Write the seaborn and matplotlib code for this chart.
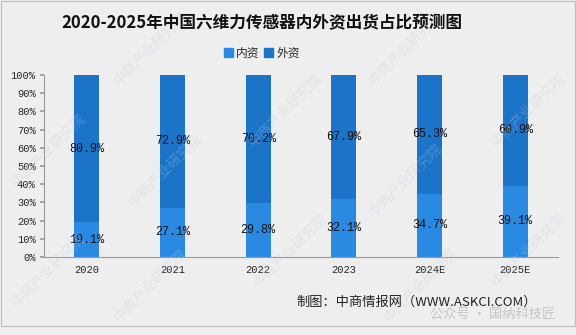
import matplotlib
matplotlib.use("Agg")
import matplotlib.pyplot as plt
import seaborn as sns
import pandas as pd
from matplotlib.patches import Rectangle

years = ["2020", "2021", "2022", "2023", "2024E", "2025E"]
domestic = [19.1, 27.1, 29.8, 32.1, 34.7, 39.1]
foreign = [80.9, 72.9, 70.2, 67.9, 65.3, 60.9]
yticks = [0, 10, 20, 30, 40, 50, 60, 70, 80, 90, 100]

title = "2020-2025年中国六维力传感器内外资出货占比预测图"
series_names = ["内资", "外资"]
source = "制图：中商情报网（WWW.ASKCI.COM）"

sns.set_theme(style="white")
plt.rcParams["font.family"] = ["Noto Sans CJK SC", "DejaVu Sans"]

bg = "#EEEEEE"
c_dom = "#2A8AE2"
c_for = "#1C74C9"

df = pd.DataFrame({"year": years, "domestic": domestic, "foreign": foreign})
df["total"] = df["domestic"] + df["foreign"]

fig = plt.figure(figsize=(5.76, 3.35), dpi=100, facecolor=bg)
ax = fig.add_axes([44/576, 1-257/335, (558-44)/576, (257-75)/335])
ax.set_facecolor(bg)

sns.barplot(data=df, x="year", y="total", color=c_for, width=0.29, ax=ax,
            saturation=1, order=years, linewidth=0, edgecolor="none")
sns.barplot(data=df, x="year", y="domestic", color=c_dom, width=0.29, ax=ax,
            saturation=1, order=years, linewidth=0, edgecolor="none")

mono = ["Liberation Mono", "DejaVu Sans Mono"]
for i, (d, f) in enumerate(zip(domestic, foreign)):
    ax.text(i, d / 2, f"{d:.1f}%", ha="center", va="center", fontsize=8.5,
            family=mono, color="#111111", zorder=5)
    ax.text(i, d + f / 2, f"{f:.1f}%", ha="center", va="center", fontsize=8.5,
            family=mono, color="#111111", zorder=5)

ax.set_ylim(0, 100)
ax.set_xlim(-0.5, len(years) - 0.5)
ax.set_yticks(yticks)
ax.set_yticklabels([f"{v}%" for v in yticks], family=mono, fontsize=7.5)
ax.set_xticks(range(len(years)))
ax.set_xticklabels(years, family=mono, fontsize=7.5)
ax.set_xlabel("")
ax.set_ylabel("")
for s in ["top", "right"]:
    ax.spines[s].set_visible(False)
for s in ["left", "bottom"]:
    ax.spines[s].set_color("#999999")
    ax.spines[s].set_linewidth(0.8)
ax.tick_params(axis="y", length=3, color="#999999", pad=3, left=True)
ax.tick_params(axis="x", length=0, pad=6)

# title
fig.text(262/576, 1 - 23/335, title, ha="center", va="center", fontsize=12,
         fontweight="bold", color="#111111")

# legend
handles = [Rectangle((0, 0), 1, 1, color=c_dom), Rectangle((0, 0), 1, 1, color=c_for)]
fig.legend(handles, series_names, loc="center", bbox_to_anchor=(262/576, 1 - 53/335),
           ncol=2, frameon=False, fontsize=8.5, handlelength=0.7, handleheight=0.7,
           handletextpad=0.3, columnspacing=0.4)

# source
fig.text(537/576, 1 - 302/335, source, ha="right", va="center", fontsize=9.5,
         color="#222222")
fig.text(555/576, 1 - 314/335, "公众号 · 国纳科技匠", ha="right", va="center",
         fontsize=9.5, color="#C0C0C0", alpha=0.9)

# frame
fig.patches.append(Rectangle((1/576, 1 - 326/335), 574/576, 325/335,
                             transform=fig.transFigure, fill=False,
                             edgecolor="#BBBBBB", linewidth=0.8))

# watermarks
wm_pos = [(48, 150), (48, 270), (150, 48), (165, 170), (150, 285),
          (285, 110), (290, 250), (405, 48), (405, 180), (420, 285),
          (528, 110), (528, 250)]
for x, y in wm_pos:
    fig.text(x/576, 1 - y/335, "中商产业研究院", rotation=45, ha="center",
             va="center", fontsize=10, color="#B8CCE0", alpha=0.3, zorder=0)

fig.savefig("out.png", dpi=100, facecolor=bg)
